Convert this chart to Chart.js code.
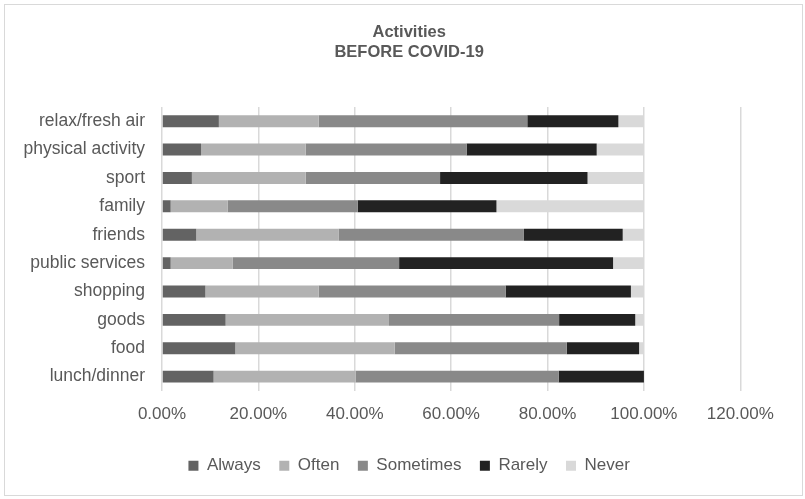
<!DOCTYPE html>
<html>
<head>
<meta charset="utf-8">
<script src="https://cdn.jsdelivr.net/npm/chart.js@4/dist/chart.umd.min.js"></script>
<style>
  html, body { margin: 0; padding: 0; background: #fff; }
  #wrap { position: relative; width: 805px; height: 499px; }
  #frame {
    position: absolute; left: 4px; top: 4px; width: 797px; height: 490px;
    border: 1.5px solid #d9d9d9; pointer-events: none;
  }
  canvas { position: absolute; left: 0; top: 0; }
</style>
</head>
<body>
<div id="wrap">
  <canvas id="chart" width="805" height="499"></canvas>
  <div id="frame"></div>
</div>
<script>
// activities, top to bottom
const activities = [
  'relax/fresh air', 'physical activity', 'sport', 'family', 'friends',
  'public services', 'shopping', 'goods', 'food', 'lunch/dinner'
];

// share of answers per activity, in percent
const always    = [11.8,  8.1,  6.2,  1.8,  7.1,  1.8,  9.0, 13.2, 15.2, 10.7];
const often     = [20.7, 21.7, 23.6, 11.8, 29.6, 12.9, 23.5, 33.9, 33.1, 29.5];
const sometimes = [43.3, 33.4, 27.9, 27.0, 38.4, 34.5, 38.8, 35.3, 35.7, 42.1];
const rarely    = [18.9, 27.0, 30.6, 28.8, 20.5, 44.4, 26.0, 15.8, 15.0, 17.7];
const never     = [ 5.3,  9.8, 11.7, 30.6,  4.4,  6.4,  2.7,  1.8,  1.0,  0.0];

const seriesNames  = ['Always', 'Often', 'Sometimes', 'Rarely', 'Never'];
const seriesColors = ['#636363', '#b2b2b2', '#898989', '#222222', '#d9d9d9'];
const xTicks = [0, 20, 40, 60, 80, 100, 120];

const FONT = '"Liberation Sans", Arial, sans-serif';
const TEXT = '#595959';

const seriesData = [always, often, sometimes, rarely, never];

new Chart(document.getElementById('chart'), {
  type: 'bar',
  data: {
    labels: activities,
    datasets: seriesNames.map((name, i) => ({
      label: name,
      data: seriesData[i],
      backgroundColor: seriesColors[i],
      borderWidth: 0,
      categoryPercentage: 1,
      barPercentage: 0.42
    }))
  },
  options: {
    indexAxis: 'y',
    responsive: false,
    animation: false,
    // left padding keeps title and legend centred on the same column as the plot
    layout: { padding: { top: 22, right: 64.7, bottom: 14.7, left: 78 } },
    plugins: {
      title: {
        display: true,
        text: ['Activities', 'BEFORE COVID-19'],
        color: TEXT,
        font: { family: FONT, size: 16.5, weight: 'bold', lineHeight: 20 / 16.5 },
        padding: { top: 0, bottom: 45 }
      },
      legend: {
        position: 'bottom',
        labels: {
          color: TEXT,
          font: { family: FONT, size: 17 },
          boxWidth: 10,
          boxHeight: 10,
          padding: 18.5
        }
      },
      tooltip: { enabled: false }
    },
    scales: {
      x: {
        stacked: true,
        min: 0,
        max: 120,
        afterBuildTicks: scale => { scale.ticks = xTicks.map(v => ({ value: v })); },
        afterFit: scale => { scale.height = 48; },
        ticks: {
          color: TEXT,
          font: { family: FONT, size: 17 },
          padding: 13.7,
          callback: v => v.toFixed(2) + '%'
        },
        grid: { color: '#d9d9d9', lineWidth: 1.5, drawTicks: false },
        border: { display: false }
      },
      y: {
        stacked: true,
        afterFit: scale => {
          scale.width = 84;
          // category names reach past the narrow axis box, so skip the label clip
          scale._computeLabelArea = () => undefined;
        },
        ticks: {
          color: TEXT,
          font: { family: FONT, size: 17.5 },
          padding: 17
        },
        grid: { display: false, drawTicks: false },
        border: { display: false }
      }
    }
  }
});
</script>
</body>
</html>
